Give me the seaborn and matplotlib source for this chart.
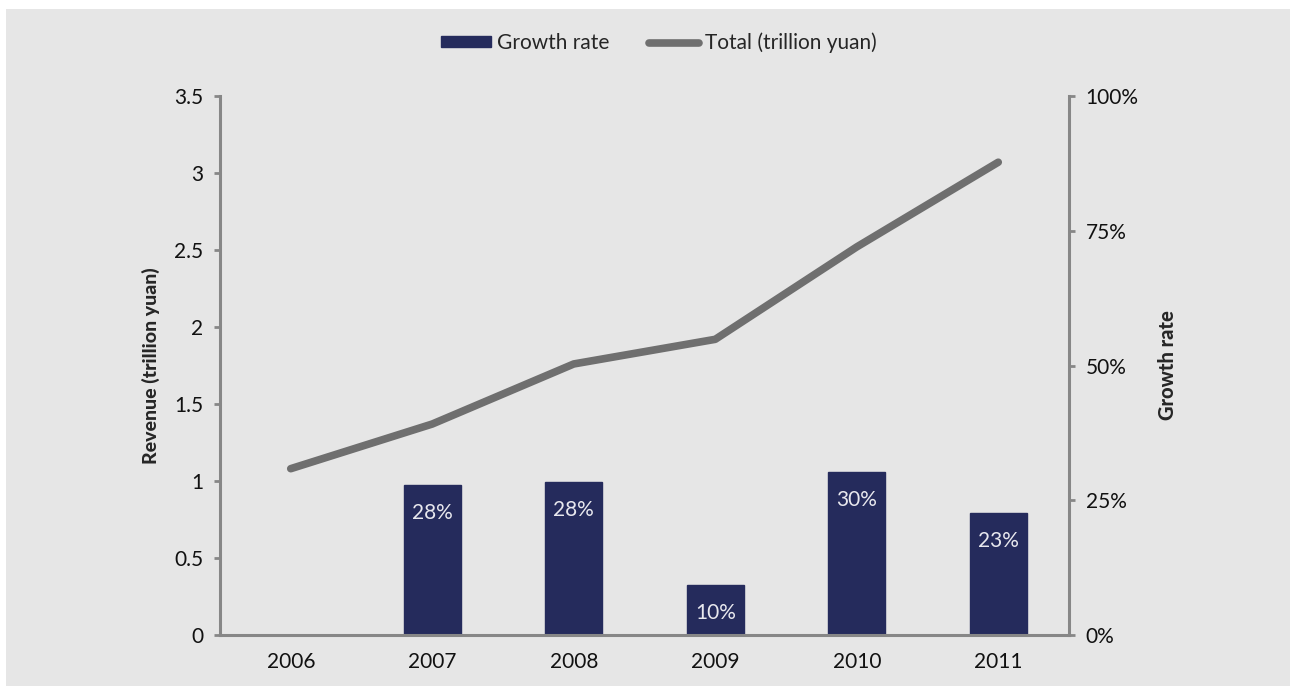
import numpy as np
import pandas as pd
import matplotlib
matplotlib.use("Agg")
import matplotlib.pyplot as plt
import matplotlib.ticker as mticker
from matplotlib.patches import Rectangle, Patch
from matplotlib.lines import Line2D
import seaborn as sns

# Data
years = ["2006", "2007", "2008", "2009", "2010", "2011"]
total = [1.08, 1.37, 1.76, 1.92, 2.52, 3.07]            # trillion yuan
growth = [np.nan, 0.278, 0.284, 0.093, 0.302, 0.226]      # growth rate
growth_labels = ["", "28%", "28%", "10%", "30%", "23%"]

BG = "#e6e6e6"
BAR = "#252b5c"
LINE = "#6f6f6f"
AXIS = "#878787"
FS = 15

sns.set_style("white")
plt.rcParams["font.family"] = ["Lato", "DejaVu Sans"]

fig = plt.figure(figsize=(12.9, 6.86), dpi=100, facecolor="white")
# gray panel, white strip on top and left like the original
fig.patches.append(Rectangle((6 / 1290, 0), 1, 1 - 9 / 686, transform=fig.transFigure,
                             facecolor=BG, edgecolor="none", zorder=-5))

ax = fig.add_axes([220 / 1290, 1 - 635 / 686, 849 / 1290, 539 / 686])
ax2 = ax.twinx()

df = pd.DataFrame({"year": years, "total": total, "growth": growth})

# bars on the right axis
sns.barplot(data=df, x="year", y="growth", ax=ax2, color=BAR, width=0.4,
            saturation=1, edgecolor=BAR)
# labels inside the top of each bar (NaN bar is dropped, so match by position)
for bar in ax2.containers[0]:
    if bar is None:
        continue
    cx = bar.get_x() + bar.get_width() / 2
    i = int(round(cx))
    ax2.annotate(growth_labels[i], (cx, bar.get_height()),
                 xytext=(0, -20), textcoords="offset points", ha="center", va="center",
                 color="#e8e8ee", fontsize=FS)

# line on the left axis, drawn over the bars
sns.lineplot(x=np.arange(len(years)), y=df["total"], ax=ax, color=LINE,
             linewidth=5.5, solid_capstyle="round")
ax.set_zorder(ax2.get_zorder() + 1)
ax.patch.set_visible(False)
ax2.patch.set_visible(False)

ax.set_xlim(-0.5, 5.5)
ax.set_ylim(0, 3.5)
ax2.set_ylim(0, 1)
ax.set_yticks(np.arange(0, 3.51, 0.5))
ax.yaxis.set_major_formatter(mticker.FuncFormatter(lambda v, p: f"{v:g}"))
ax2.set_yticks([0, 0.25, 0.5, 0.75, 1.0])
ax2.yaxis.set_major_formatter(mticker.PercentFormatter(1.0, decimals=0))
ax.set_xticks(np.arange(len(years)))
ax.set_xticklabels(years)

for a in (ax, ax2):
    for s in a.spines.values():
        s.set_visible(False)
    a.set_xlabel("")
ax.spines["left"].set_visible(True)
ax.spines["bottom"].set_visible(True)
ax2.spines["right"].set_visible(True)
for s in (ax.spines["left"], ax.spines["bottom"], ax2.spines["right"]):
    s.set_color(AXIS)
    s.set_linewidth(2.2)

ax.tick_params(axis="y", left=True, length=4, width=2, color=AXIS,
               labelsize=FS, pad=8, labelcolor="#111111")
ax.tick_params(axis="x", bottom=False, labelsize=FS, pad=9, labelcolor="#111111")
ax2.tick_params(axis="y", right=True, length=4, width=2, color=AXIS,
                labelsize=FS, pad=8, labelcolor="#111111")

ax.set_ylabel("Revenue (trillion yuan)", fontsize=14, fontweight=900, labelpad=10)
ax2.set_ylabel("Growth rate", fontsize=14.5, fontweight=900, labelpad=14)

handles = [Patch(facecolor=BAR, edgecolor=BAR),
           Line2D([0], [0], color=LINE, linewidth=5.5, solid_capstyle="round")]
fig.legend(handles, ["Growth rate", "Total (trillion yuan)"], loc="center",
           bbox_to_anchor=(0.5 + 14 / 1290, 1 - 43 / 686), ncol=2, frameon=False,
           fontsize=FS, handlelength=2.4, handleheight=0.45, handletextpad=0.3,
           columnspacing=1.9)

fig.savefig("out.png", dpi=100, facecolor="white")
